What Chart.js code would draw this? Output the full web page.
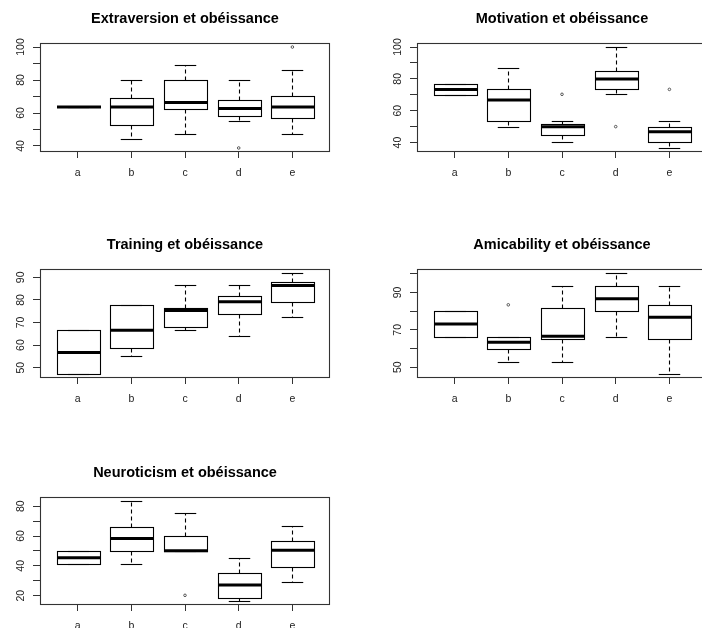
<!DOCTYPE html>
<html><head><meta charset="utf-8">
<script src="https://cdn.jsdelivr.net/npm/chart.js@4.4.1/dist/chart.umd.min.js"></script>
<style>
html,body{margin:0;padding:0;background:#fff;width:702px;height:628px;overflow:hidden;position:relative}
canvas{position:absolute;display:block}
</style></head><body>
<canvas id="c1"></canvas>
<canvas id="c2"></canvas>
<canvas id="c3"></canvas>
<canvas id="c4"></canvas>
<canvas id="c5"></canvas>
<script>
const categories = ['a','b','c','d','e'];

// each entry: [lower whisker, Q1, median, Q3, upper whisker]
const extraversion = [[63.6,63.6,63.6,63.6,63.6],[44.2,52.5,63.6,69.1,80.2],[47.1,62.2,66.3,80.2,88.9],[55.2,58.2,62.7,68.1,80.2],[47.1,57.2,63.6,70.3,85.9]];
const extraversionOutliers = [[],[],[],[38.8],[100]];
const extraversionTicks = [40,50,60,70,80,90,100];
const extraversionTickLabels = ['40','','60','','80','','100'];

const motivation = [[70.0,70.0,73.4,76.5,76.5],[50.0,53.7,66.7,73.4,86.8],[40.2,44.8,50.0,51.8,53.7],[70.3,73.4,79.9,84.9,100],[36.6,40.2,46.8,50.0,53.7]];
const motivationOutliers = [[],[],[70.3],[50.0],[73.4]];
const motivationTicks = [40,50,60,70,80,90,100];
const motivationTickLabels = ['40','','60','','80','','100'];

const training = [[47.2,47.2,56.7,66.6,66.6],[55.2,58.6,66.6,77.7,77.7],[66.6,68.0,75.3,76.4,86.4],[63.8,73.7,79.2,81.7,86.4],[72.4,79.2,86.4,87.8,91.9]];
const trainingOutliers = [[],[],[],[],[]];
const trainingTicks = [50,60,70,80,90];
const trainingTickLabels = ['50','60','70','80','90'];

const amicability = [[66.4,66.4,73.1,80.2,80.2],[53.0,60.0,63.4,66.4,66.4],[53.0,65.0,66.6,81.8,93.7],[66.4,80.2,86.6,93.7,100.4],[46.4,65.0,76.8,83.2,93.7]];
const amicabilityOutliers = [[],[83.4],[],[],[]];
const amicabilityTicks = [50,60,70,80,90,100];
const amicabilityTickLabels = ['50','','70','','90',''];

const neuroticism = [[41.5,41.5,45.5,50.2,50.2],[41.5,50.2,58.3,66.3,83.5],[49.8,49.8,50.2,60.3,75.4],[16.4,18.4,27.1,35.2,45.5],[29.1,39.2,50.4,56.6,66.5]];
const neuroticismOutliers = [[],[],[20.2],[],[]];
const neuroticismTicks = [20,30,40,50,60,70,80];
const neuroticismTickLabels = ['20','','40','','60','','80'];

const titles = ['Extraversion et obéissance','Motivation et obéissance','Training et obéissance','Amicability et obéissance','Neuroticism et obéissance'];

// layout (plot-region positions in page pixels)
const panels = [
  {id:'c1', title:titles[0], stats:extraversion, out:extraversionOutliers, ticks:extraversionTicks, labels:extraversionTickLabels, left:40,  top:43,  w:290, h:109},
  {id:'c2', title:titles[1], stats:motivation,   out:motivationOutliers,   ticks:motivationTicks,   labels:motivationTickLabels,   left:417, top:43,  w:290, h:109},
  {id:'c3', title:titles[2], stats:training,     out:trainingOutliers,     ticks:trainingTicks,     labels:trainingTickLabels,     left:40,  top:269, w:290, h:109},
  {id:'c4', title:titles[3], stats:amicability,  out:amicabilityOutliers,  ticks:amicabilityTicks,  labels:amicabilityTickLabels,  left:417, top:269, w:290, h:109},
  {id:'c5', title:titles[4], stats:neuroticism,  out:neuroticismOutliers,  ticks:neuroticismTicks,  labels:neuroticismTickLabels,  left:40,  top:497, w:290, h:108}
];

const M = 40, TOP = 45, BOT = 35;
const FONT = "'Liberation Sans', Arial, sans-serif";

const boxPlugin = {
  id: 'boxes',
  beforeDatasetsDraw(chart, args, opts) {
    const {ctx, scales:{x, y}} = chart;
    ctx.save();
    ctx.strokeStyle = '#000';
    const line = (x1,y1,x2,y2) => { ctx.beginPath(); ctx.moveTo(x1,y1); ctx.lineTo(x2,y2); ctx.stroke(); };
    opts.stats.forEach((s, i) => {
      const cx = Math.round(x.getPixelForValue(i+1)) + 0.5;
      const hw = x.getPixelForValue(i+1+0.4) - x.getPixelForValue(i+1);
      const sw = hw/2;
      const [mn,q1,md,q3,mx] = s.map(v => Math.round(y.getPixelForValue(v)) + 0.5);
      ctx.lineWidth = 1.1;
      ctx.setLineDash([4,3]);
      line(cx, q3, cx, mx);
      line(cx, q1, cx, mn);
      ctx.setLineDash([]);
      line(cx-sw, mx, cx+sw, mx);
      line(cx-sw, mn, cx+sw, mn);
      ctx.strokeRect(Math.round(cx-hw)+0.5, q3, Math.round(2*hw), q1-q3);
      ctx.lineWidth = 3;
      const mdv = y.getPixelForValue(s[2]);
      line(Math.round(cx-hw), mdv, Math.round(cx-hw)+Math.round(2*hw)+1, mdv);
    });
    ctx.restore();
  },
  afterDraw(chart, args, opts) {
    const {ctx, chartArea:a, scales:{y}} = chart;
    ctx.save();
    ctx.lineWidth = 1.1;
    ctx.strokeStyle = '#333';
    ctx.strokeRect(a.left+0.5, a.top+0.5, a.width-1, a.height-1);
    ctx.fillStyle = '#222';
    ctx.font = '10.5px ' + FONT;
    ctx.textAlign = 'center';
    ctx.textBaseline = 'middle';
    opts.ticks.forEach((v, i) => {
      const lab = opts.labels[i];
      if (!lab) return;
      ctx.save();
      ctx.translate(a.left - 19, y.getPixelForValue(v));
      ctx.rotate(-Math.PI/2);
      ctx.fillText(lab, 0, 0);
      ctx.restore();
    });
    ctx.restore();
  }
};

panels.forEach(p => {
  const cv = document.getElementById(p.id);
  const W = p.w + 2*M, H = p.h + TOP + BOT;
  cv.width = W; cv.height = H;
  cv.style.left = (p.left - M) + 'px';
  cv.style.top = (p.top - TOP) + 'px';
  cv.style.width = W + 'px'; cv.style.height = H + 'px';
  const all = p.stats.flat().concat(p.out.flat());
  const lo = Math.min(...all), hi = Math.max(...all), pad = (hi - lo) * 0.04;
  const outData = [];
  p.out.forEach((arr, i) => arr.forEach(v => outData.push({x: i+1, y: v})));
  new Chart(cv, {
    type: 'scatter',
    data: { datasets: [{ data: outData, pointStyle: 'circle', pointRadius: 1.3, pointBorderWidth: 1,
      pointBorderColor: '#555', pointBackgroundColor: 'rgba(0,0,0,0)', pointHoverRadius: 1.3 }] },
    options: {
      responsive: false, animation: false, devicePixelRatio: 1,
      events: [],
      layout: { padding: { left: M, right: M, top: 0, bottom: 0 } },
      plugins: {
        legend: { display: false },
        tooltip: { enabled: false },
        title: { display: true, text: p.title, color: '#000',
          font: { family: FONT, size: 14.5, weight: 'bold', lineHeight: 1.2 },
          padding: { top: 11.9, bottom: 15.7 } },
        boxes: { stats: p.stats, ticks: p.ticks, labels: p.labels }
      },
      scales: {
        x: {
          type: 'linear', position: 'bottom', min: 0.3, max: 5.7,
          afterBuildTicks: s => { s.ticks = categories.map((c, i) => ({ value: i+1 })); },
          afterFit: s => { s.height = BOT; },
          ticks: { autoSkip: false, maxRotation: 0, minRotation: 0, padding: 8.5, color: '#222',
            font: { family: FONT, size: 10.5 },
            callback: v => categories[Math.round(v) - 1] },
          grid: { display: true, drawOnChartArea: false, drawTicks: true, tickLength: 6, color: '#333', lineWidth: 1 },
          border: { display: false }
        },
        y: {
          type: 'linear', position: 'left', min: lo - pad, max: hi + pad,
          afterBuildTicks: s => { s.ticks = p.ticks.map(v => ({ value: v })); },
          afterFit: s => { s.width = 0; },
          ticks: { display: false },
          grid: { display: true, drawOnChartArea: false, drawTicks: true, tickLength: 7, color: '#333', lineWidth: 1 },
          border: { display: false }
        }
      }
    },
    plugins: [boxPlugin]
  });
});
</script>
</body></html>
